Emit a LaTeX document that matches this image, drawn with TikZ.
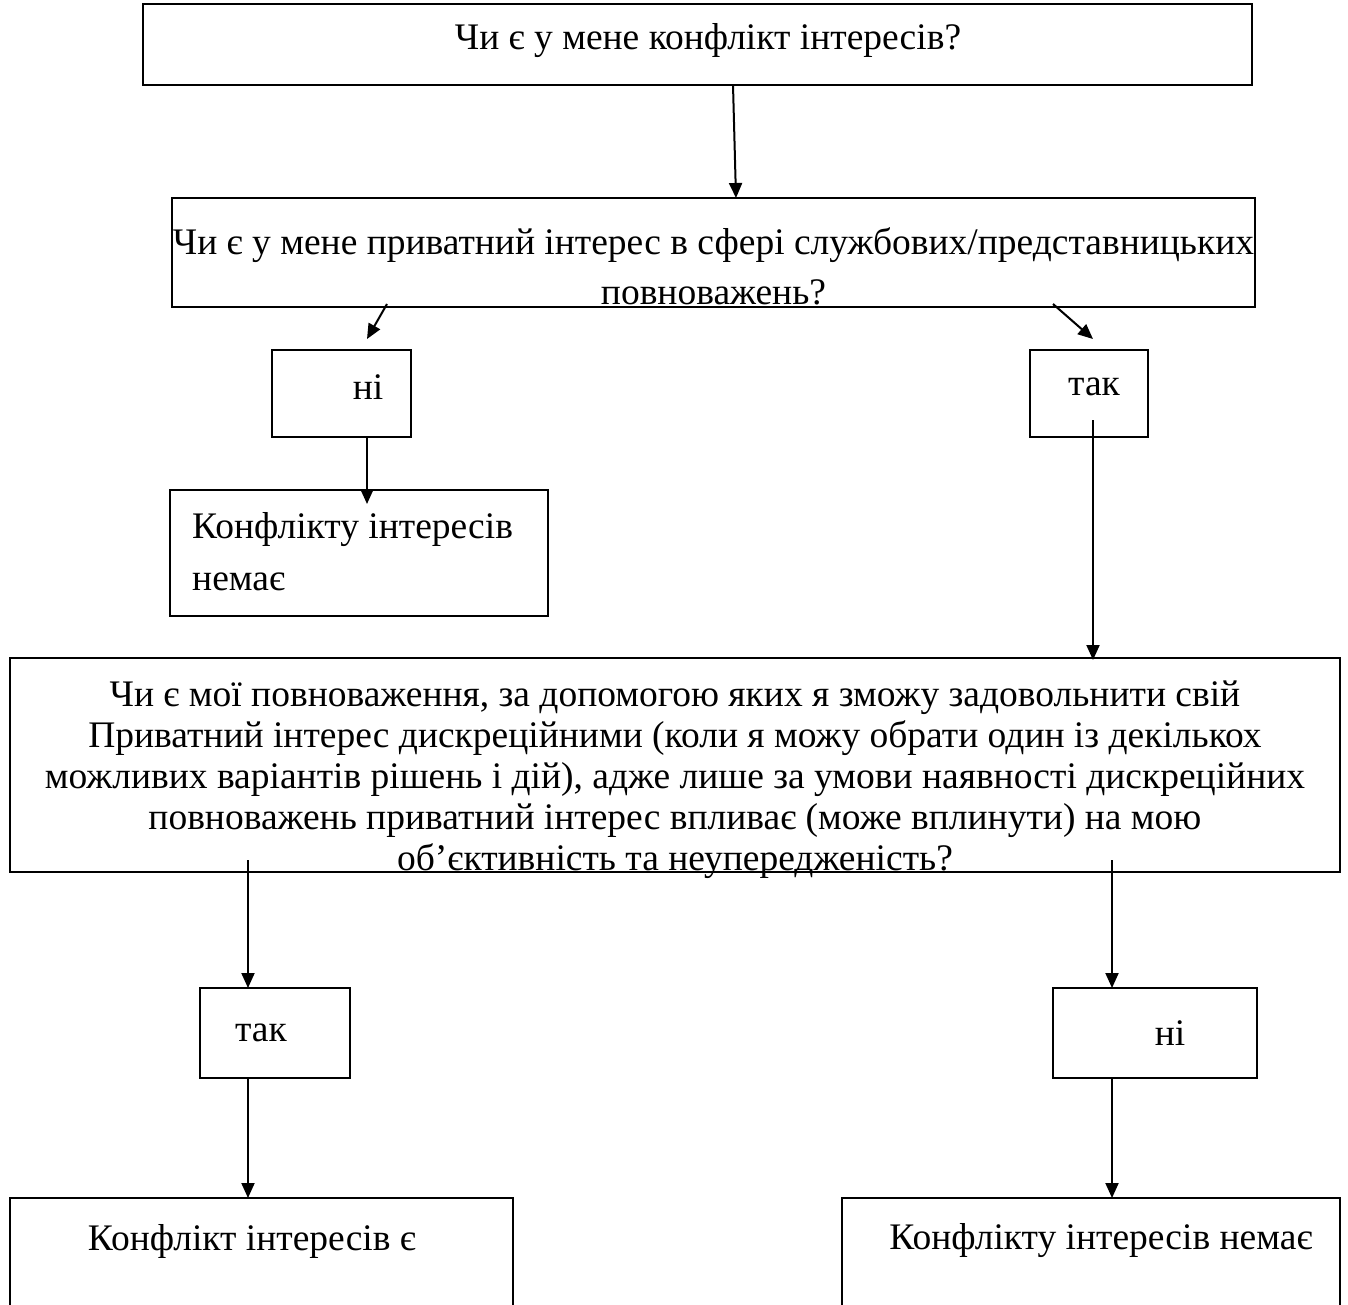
\documentclass[tikz,border=0pt]{standalone}
\usepackage{fontspec}
\setmainfont{Liberation Serif}
\usetikzlibrary{arrows.meta}
\tikzset{
  box/.style={draw, line width=1.9bp, minimum width=#1, inner sep=0pt},
  txt/.style={inner sep=0pt, align=center, font=\fontsize{37.5bp}{41bp}\selectfont},
  arr/.style={line width=2bp, -{Triangle[length=15bp,width=13bp]}}
}
\begin{document}
\begin{tikzpicture}[x=1bp,y=-1bp]
\useasboundingbox (0,0) rectangle (1348,1305);
% boxes
\node[box=1109bp, minimum height=81bp] (b1) at (697.5,44.5) {};
\node[txt] (t1) at (708,41) {Чи є у мене конфлікт інтересів?};
\node[box=1083bp, minimum height=109bp] (b2) at (713.5,252.5) {};
\node[txt, font=\fontsize{37.5bp}{50bp}\selectfont] (t2) at (713.5,266) {Чи є у мене приватний інтерес в сфері службових/представницьких\\повноважень?};
\node[box=139bp, minimum height=87bp] (no1) at (341.5,393.5) {};
\node[txt] (tno1) at (368,387) {ні};
\node[box=118bp, minimum height=87bp] (yes1) at (1089,393.5) {};
\node[txt] (tyes1) at (1094,387) {так};
\node[box=378bp, minimum height=126bp] (res1) at (359,553) {};
\node[txt, align=left, anchor=west, font=\fontsize{37.5bp}{52bp}\selectfont] (tres1) at (192,552) {Конфлікту інтересів\\немає};
\node[box=1330bp, minimum height=214bp] (big) at (675,765) {};
\node[txt] (tbig) at (675,780) {Чи є мої повноваження, за допомогою яких я зможу задовольнити свій\\Приватний інтерес дискреційними (коли я можу обрати один із декількох\\можливих варіантів рішень і дій), адже лише за умови наявності дискреційних\\повноважень приватний інтерес впливає (може вплинути) на мою\\об’єктивність та неупередженість?};
\node[box=150bp, minimum height=90bp] (yes2) at (275,1033) {};
\node[txt] (tyes2) at (261,1033) {так};
\node[box=204bp, minimum height=90bp] (no2) at (1155,1033) {};
\node[txt] (tno2) at (1170,1033) {ні};
% bottom boxes, cut by the page edge
\coordinate (res2) at (248,1198);
\coordinate (res3) at (1112,1198);
\draw[line width=1.9bp] (10,1305) -- (10,1198) -- (513,1198) -- (513,1305);
\draw[line width=1.9bp] (842,1305) -- (842,1198) -- (1340,1198) -- (1340,1305);
\node[txt] (tres2) at (252,1241) {Конфлікт інтересів є};
\node[txt] (tres3) at (1101,1241) {Конфлікту інтересів немає};
% connectors
\coordinate (a0s) at (733,85); \coordinate (a0e) at (736,198);
\coordinate (a1s) at (387,304); \coordinate (a1e) at (367,339);
\coordinate (a2s) at (1053,304); \coordinate (a2e) at (1093,339);
\coordinate (a3s) at (1093,420); \coordinate (a3e) at (1093,660);
\coordinate (a4s) at (248,860); \coordinate (a4e) at (248,988);
\coordinate (a5s) at (1112,860); \coordinate (a5e) at (1112,988);
\coordinate (a6s) at (367,437); \coordinate (a6e) at (367,504);
\draw[arr] (a0s) -- (a0e);
\draw[arr] (a1s) -- (a1e);
\draw[arr] (a2s) -- (a2e);
\draw[arr] (a6s) -- (a6e);
\draw[arr] (a3s) -- (a3e);
\draw[arr] (a4s) -- (a4e);
\draw[arr] (a5s) -- (a5e);
\draw[arr] (248,1078) -- (res2);
\draw[arr] (1112,1078) -- (res3);
\end{tikzpicture}
\end{document}
